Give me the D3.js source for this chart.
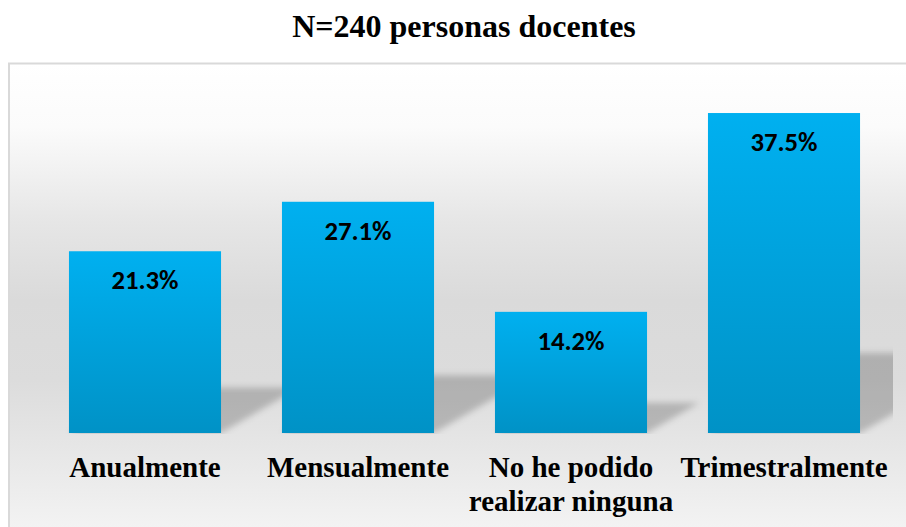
<!DOCTYPE html>
<html>
<head>
<meta charset="utf-8">
<script src="https://cdn.jsdelivr.net/npm/d3@7"></script>
<style>
  html, body { margin: 0; padding: 0; background: #ffffff; }
  svg { display: block; }
</style>
</head>
<body>
<svg id="chart" width="906" height="527"></svg>
<script>
// ---- data ----
const categories = ["Anualmente", "Mensualmente", "No he podido realizar ninguna", "Trimestralmente"];
const categoryLines = [["Anualmente"], ["Mensualmente"], ["No he podido", "realizar ninguna"], ["Trimestralmente"]];
const values = [21.3, 27.1, 14.2, 37.5];
const valueLabels = ["21.3%", "27.1%", "14.2%", "37.5%"];
const titleText = "N=240 personas docentes";

// ---- layout ----
const W = 906, H = 527;
const serifFont = "Liberation Serif";
const sansFont = "Carlito";
const svg = d3.select("#chart");
const defs = svg.append("defs");

// background gradient of chart area
const bg = defs.append("linearGradient").attr("id", "bgGrad")
  .attr("x1", 0).attr("y1", 0).attr("x2", 0).attr("y2", 1);
[[0, "#ffffff"], [0.12, "#fbfbfb"], [0.3, "#e6e6e6"], [0.45, "#dadada"],
 [0.6, "#dcdcdc"], [0.8, "#ececec"], [0.92, "#f6f6f6"], [1, "#fdfdfd"]]
  .forEach(([o, c]) => bg.append("stop").attr("offset", o).attr("stop-color", c));

// bar gradient
const bgBar = defs.append("linearGradient").attr("id", "barGrad")
  .attr("x1", 0).attr("y1", 0).attr("x2", 0).attr("y2", 1);
bgBar.append("stop").attr("offset", 0).attr("stop-color", "#00b0f0");
bgBar.append("stop").attr("offset", 1).attr("stop-color", "#0092c6");

// shadow blur
defs.append("filter").attr("id", "blur").attr("x", "-20%").attr("y", "-20%")
  .attr("width", "140%").attr("height", "140%")
  .append("feGaussianBlur").attr("stdDeviation", 3);

defs.append("clipPath").attr("id", "plotClip")
  .append("rect").attr("x", 10).attr("y", 64).attr("width", 883).attr("height", 370);

// chart area background + border
svg.append("rect").attr("x", 9).attr("y", 63.5).attr("width", W).attr("height", H)
  .attr("fill", "url(#bgGrad)").attr("stroke", "#d9d9d9").attr("stroke-width", 2);

// title
svg.append("text").attr("x", 464).attr("y", 37).attr("text-anchor", "middle")
  .style("font-family", serifFont)
  .attr("font-weight", "bold").attr("font-size", 32).attr("fill", "#000")
  .text(titleText);

// scales
const x = d3.scaleBand().domain(categories).range([38.5, 890.5])
  .paddingInner(0.286).paddingOuter(0.143);
const y = d3.scaleLinear().domain([0, 40]).range([433, 91.7]);

const data = categories.map((c, i) => ({ c, v: values[i], label: valueLabels[i], lines: categoryLines[i] }));

// shadows
const k = 0.25, slope = 0.58;
svg.append("g").attr("clip-path", "url(#plotClip)")
  .selectAll("path").data(data).join("path")
  .attr("d", d => {
    const x0 = x(d.c), x1 = x(d.c) + x.bandwidth();
    const y0 = y(0), h = y(0) - y(d.v);
    const sh = k * h, dx = sh / slope;
    return `M${x0},${y0} L${x1},${y0} L${x1 + dx},${y0 - sh} L${x0 + dx},${y0 - sh} Z`;
  })
  .attr("fill", "#000").attr("fill-opacity", 0.2).attr("filter", "url(#blur)");

// bars
svg.append("g").selectAll("rect").data(data).join("rect")
  .attr("x", d => x(d.c)).attr("width", x.bandwidth())
  .attr("y", d => y(d.v)).attr("height", d => y(0) - y(d.v))
  .attr("fill", "url(#barGrad)");

// value labels
svg.append("g").selectAll("text").data(data).join("text")
  .attr("x", d => x(d.c) + x.bandwidth() / 2)
  .attr("y", d => y(d.v) + 38)
  .attr("text-anchor", "middle")
  .style("font-family", sansFont)
  .attr("font-weight", "bold").attr("font-size", 26.7).attr("fill", "#000")
  .text(d => d.label);

// category labels
const cat = svg.append("g").selectAll("text").data(data).join("text")
  .attr("text-anchor", "middle")
  .style("font-family", serifFont)
  .attr("font-weight", "bold").attr("font-size", 29).attr("fill", "#000");
cat.each(function(d) {
  const t = d3.select(this);
  d.lines.forEach((ln, j) => {
    t.append("tspan").attr("x", x(d.c) + x.bandwidth() / 2)
      .attr("y", 477 + j * 34).text(ln);
  });
});
</script>
</body>
</html>
